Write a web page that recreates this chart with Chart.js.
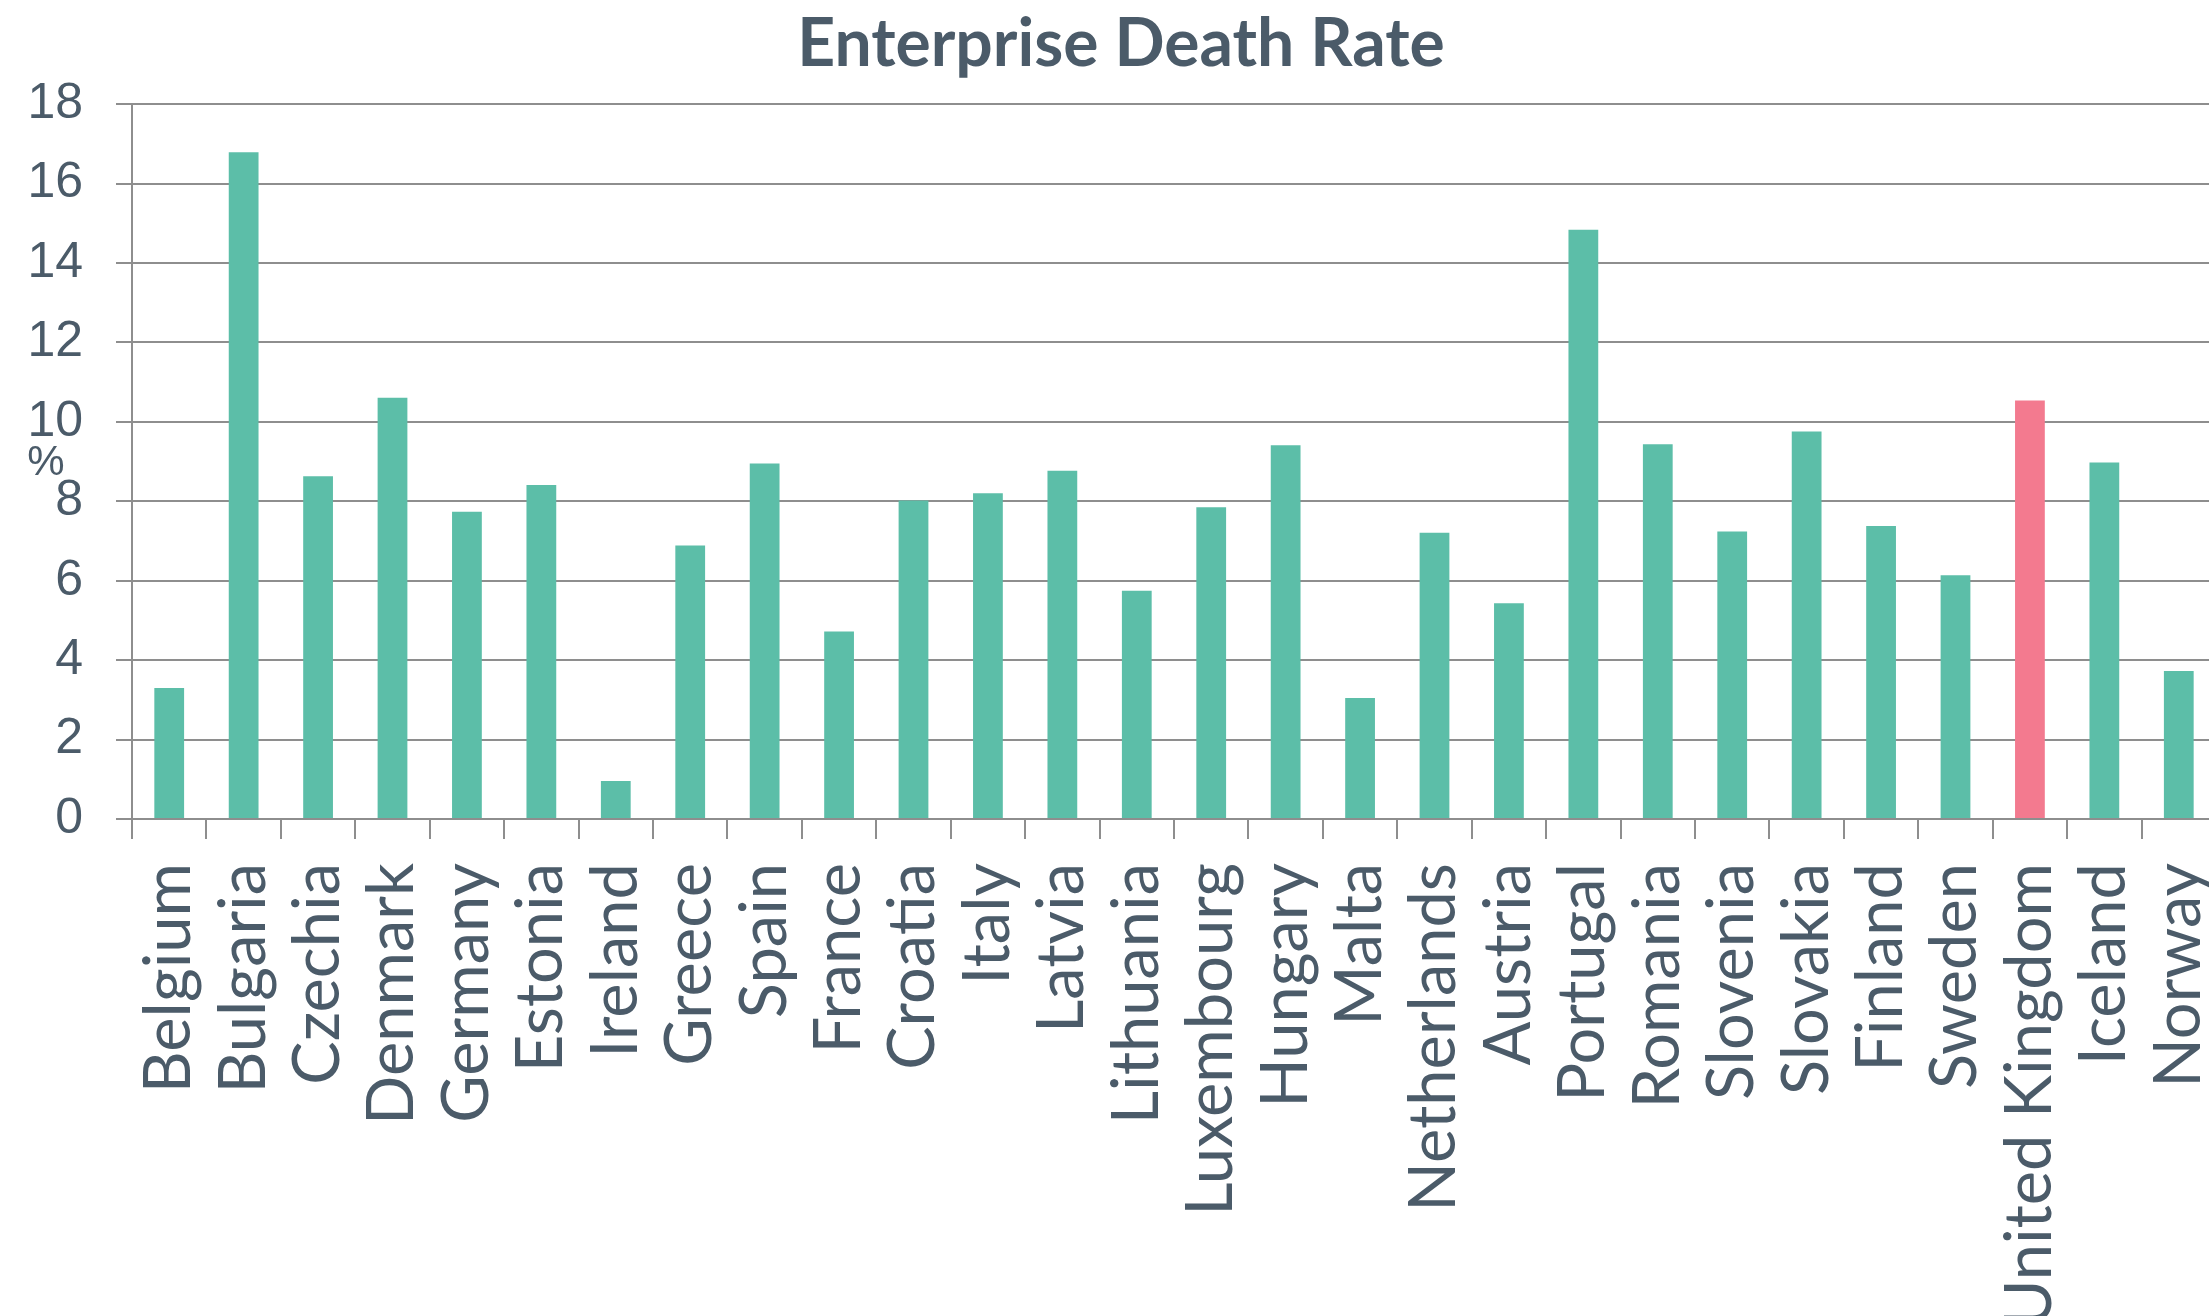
<!DOCTYPE html>
<html lang="en">
<head>
  <meta charset="UTF-8" />
  <title>Enterprise Death Rate</title>
  <script src="https://cdn.jsdelivr.net/npm/chart.js"></script>
  <style>
    html, body { margin: 0; padding: 0; overflow: hidden; background: #fff; }
    #wrap { width: 2242px; height: 1316px; }
  </style>
</head>
<body>
  <div id="wrap">
    <canvas id="deathRateChart" width="2242" height="1316"></canvas>
  </div>

  <script>
    const countries = ['Belgium', 'Bulgaria', 'Czechia', 'Denmark', 'Germany', 'Estonia', 'Ireland',
      'Greece', 'Spain', 'France', 'Croatia', 'Italy', 'Latvia', 'Lithuania', 'Luxembourg',
      'Hungary', 'Malta', 'Netherlands', 'Austria', 'Portugal', 'Romania', 'Slovenia',
      'Slovakia', 'Finland', 'Sweden', 'United Kingdom', 'Iceland', 'Norway'];
    const deathRate = [3.30, 16.79, 8.63, 10.61, 7.74, 8.41, 0.96,
      6.89, 8.95, 4.72, 8.02, 8.20, 8.77, 5.75, 7.85,
      9.41, 3.05, 7.21, 5.43, 14.84, 9.44, 7.24,
      9.76, 7.38, 6.14, 10.54, 8.98, 3.73];
    const yTicks = [0, 2, 4, 6, 8, 10, 12, 14, 16, 18];
    const highlighted = 'United Kingdom';

    const textColour = '#4b5b69';
    const gridColour = '#8e8e8e';

    // "%" unit label sitting horizontally beside the y axis
    const unitLabel = {
      id: 'unitLabel',
      afterDraw(chart) {
        const { ctx, scales } = chart;
        const y = scales.y;
        ctx.save();
        ctx.font = '42px "Liberation Sans", sans-serif';
        ctx.fillStyle = textColour;
        ctx.textAlign = 'center';
        ctx.textBaseline = 'middle';
        ctx.fillText('%', 46, (y.top + y.bottom) / 2 + 2);
        ctx.restore();
      }
    };

    new Chart(document.getElementById('deathRateChart'), {
      type: 'bar',
      data: {
        labels: countries,
        datasets: [{
          label: 'Enterprise death rate',
          data: deathRate,
          backgroundColor: countries.map(c => c === highlighted ? '#f37a8f' : '#5cbea8'),
          barPercentage: 0.4,
          categoryPercentage: 1.0
        }]
      },
      options: {
        responsive: false,
        animation: false,
        layout: { padding: 0 },
        plugins: {
          legend: { display: false },
          tooltip: { enabled: false },
          title: {
            display: true,
            text: 'Enterprise Death Rate',
            color: textColour,
            font: { family: 'Lato', size: 66, weight: 'bold', lineHeight: 1.2 },
            padding: { top: 5, bottom: 20 }
          }
        },
        scales: {
          x: {
            grid: {
              display: true,
              drawOnChartArea: false,
              drawTicks: true,
              tickLength: 20,
              color: gridColour,
              lineWidth: 2
            },
            border: { display: true, color: gridColour, width: 2 },
            ticks: {
              color: textColour,
              font: { family: 'Lato', size: 65 },
              minRotation: 90,
              maxRotation: 90,
              autoSkip: false,
              padding: 24
            },
            afterFit(scale) {
              scale.height = 497;
              // fixed side room; the last label is allowed to run off the edge
              scale.paddingLeft = 0;
              scale.paddingRight = 26;
            }
          },
          y: {
            min: 0,
            max: 18,
            afterBuildTicks(scale) { scale.ticks = yTicks.map(v => ({ value: v })); },
            grid: {
              color: gridColour,
              lineWidth: 2,
              drawTicks: true,
              tickLength: 16
            },
            border: { display: true, color: gridColour, width: 2 },
            ticks: {
              color: textColour,
              font: { family: '"Liberation Sans", sans-serif', size: 50 },
              padding: 33
            },
            afterFit(scale) { scale.width = 132; }
          }
        }
      },
      plugins: [unitLabel]
    });
  </script>
</body>
</html>
